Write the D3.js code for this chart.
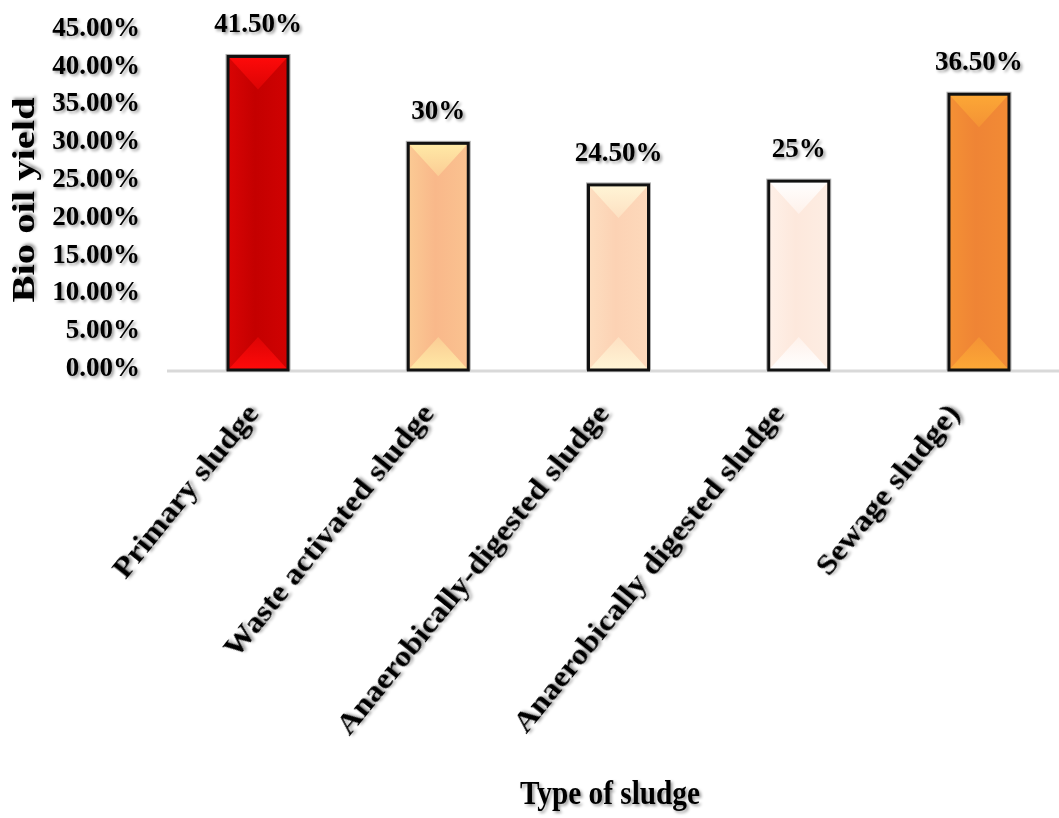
<!DOCTYPE html>
<html>
<head>
<meta charset="utf-8">
<script src="https://cdn.jsdelivr.net/npm/d3@7"></script>
<style>
    body { margin: 0; background: #fff; }
    text { font-family: "Liberation Serif", "Times New Roman", serif; font-weight: bold; fill: #000; }
</style>
</head>
<body>
<svg id="chart"></svg>
<script>
    // Data
    const categories = ['Primary sludge', 'Waste activated sludge', 'Anaerobically-digested sludge', 'Anaerobically digested sludge', 'Sewage sludge)'];
    const yields = [41.5, 30, 24.5, 25, 36.5];
    const valueLabels = ['41.50%', '30%', '24.50%', '25%', '36.50%'];
    const yTicks = [0, 5, 10, 15, 20, 25, 30, 35, 40, 45];

    // Base colour and highlight colour of every bar
    const baseColors = ['#c40000', '#f9b88a', '#fcd2b4', '#fde8dc', '#ef8435'];
    const lightColors = ['#ff0a0a', '#ffeaa6', '#fff5d6', '#ffffff', '#fca836'];

    // Set standards
    const width = 1059;
    const height = 818;

    const svg = d3.select('#chart')
        .attr('width', width)
        .attr('height', height);

    const defs = svg.append('defs');

    // Soft shadow under all texts
    defs.append('filter')
        .attr('id', 'shadow')
        .attr('x', '-10%').attr('y', '-10%')
        .attr('width', '130%').attr('height', '140%')
        .append('feDropShadow')
        .attr('dx', 2).attr('dy', 2)
        .attr('stdDeviation', 1.5)
        .attr('flood-color', '#000')
        .attr('flood-opacity', 0.4);

    // Scales
    const x = d3.scaleBand()
        .domain(categories)
        .range([168, 1069])
        .paddingInner(0.667)
        .paddingOuter(0.333);

    const y = d3.scaleLinear()
        .domain([0, 45])
        .range([370, 30]);

    // Y axis labels
    const yAxis = svg.append('g')
        .attr('transform', 'translate(140,0)')
        .call(d3.axisLeft(y)
            .tickValues(yTicks)
            .tickSize(0)
            .tickPadding(0)
            .tickFormat(d => d3.format('.2f')(d) + '%'));
    yAxis.select('.domain').remove();
    yAxis.selectAll('text')
        .attr('font-size', 27)
        .attr('font-family', null)
        .attr('dy', '0.2em')
        .attr('filter', 'url(#shadow)');

    // Baseline
    svg.append('line')
        .attr('x1', 167).attr('x2', width)
        .attr('y1', y(0) + 1).attr('y2', y(0) + 1)
        .attr('stroke', '#d9d9d9')
        .attr('stroke-width', 3);

    // Gradients for the bevelled bars
    categories.forEach((c, i) => {
        const side = defs.append('linearGradient')
            .attr('id', 'side' + i)
            .attr('x1', 0).attr('x2', 1).attr('y1', 0).attr('y2', 0);
        side.append('stop').attr('offset', '0%').attr('stop-color', d3.interpolateRgb(baseColors[i], lightColors[i])(0.35));
        side.append('stop').attr('offset', '45%').attr('stop-color', baseColors[i]);
        side.append('stop').attr('offset', '100%').attr('stop-color', d3.interpolateRgb(baseColors[i], lightColors[i])(0.2));

        const top = defs.append('linearGradient')
            .attr('id', 'top' + i)
            .attr('x1', 0).attr('x2', 0).attr('y1', 0).attr('y2', 1);
        top.append('stop').attr('offset', '0%').attr('stop-color', lightColors[i]);
        top.append('stop').attr('offset', '100%').attr('stop-color', d3.interpolateRgb(baseColors[i], lightColors[i])(0.4));

        const bottom = defs.append('linearGradient')
            .attr('id', 'bottom' + i)
            .attr('x1', 0).attr('x2', 0).attr('y1', 1).attr('y2', 0);
        bottom.append('stop').attr('offset', '0%').attr('stop-color', lightColors[i]);
        bottom.append('stop').attr('offset', '100%').attr('stop-color', d3.interpolateRgb(baseColors[i], lightColors[i])(0.4));
    });

    const data = categories.map((c, i) => ({ category: c, value: yields[i], label: valueLabels[i], index: i }));

    // Bars
    const groups = svg.append('g')
        .selectAll('g')
        .data(data)
        .enter().append('g');

    const bw = x.bandwidth();
    const depth = bw * 0.55;

    groups.append('rect')
        .attr('x', d => x(d.category))
        .attr('y', d => y(d.value))
        .attr('width', bw)
        .attr('height', d => y(0) - y(d.value))
        .attr('fill', d => `url(#side${d.index})`);

    groups.append('polygon')
        .attr('points', d => {
            const x0 = x(d.category), x1 = x0 + bw, t = y(d.value);
            return `${x0},${t} ${x1},${t} ${x0 + bw / 2},${t + depth}`;
        })
        .attr('fill', d => `url(#top${d.index})`);

    groups.append('polygon')
        .attr('points', d => {
            const x0 = x(d.category), x1 = x0 + bw, b = y(0);
            return `${x0},${b} ${x1},${b} ${x0 + bw / 2},${b - depth}`;
        })
        .attr('fill', d => `url(#bottom${d.index})`);

    // Outer grey edge and black outline
    groups.append('rect')
        .attr('x', d => x(d.category) - 2)
        .attr('y', d => y(d.value) - 2)
        .attr('width', bw + 4)
        .attr('height', d => y(0) - y(d.value) + 2)
        .attr('fill', 'none')
        .attr('stroke', '#b0b0b0')
        .attr('stroke-width', 1);

    groups.append('rect')
        .attr('x', d => x(d.category))
        .attr('y', d => y(d.value))
        .attr('width', bw)
        .attr('height', d => y(0) - y(d.value))
        .attr('fill', 'none')
        .attr('stroke', '#111')
        .attr('stroke-width', 3);

    // Value labels
    groups.append('text')
        .attr('x', d => x(d.category) + bw / 2)
        .attr('y', d => y(d.value) - 24)
        .attr('text-anchor', 'middle')
        .attr('font-size', 27)
        .attr('filter', 'url(#shadow)')
        .text(d => d.label);

    // Category labels, rotated
    svg.append('g')
        .selectAll('text')
        .data(categories)
        .enter().append('text')
        .attr('transform', (d, i) => `translate(${x(d) + bw / 2 + 2 - i * 5},${y(0) + 44}) rotate(-51) scale(1.12,1)`)
        .attr('text-anchor', 'end')
        .attr('font-size', 29)
        .attr('filter', 'url(#shadow)')
        .text(d => d);

    // Axis titles
    svg.append('text')
        .attr('transform', 'translate(34,200) rotate(-90)')
        .attr('text-anchor', 'middle')
        .attr('font-size', 31)
        .attr('textLength', 205)
        .attr('lengthAdjust', 'spacingAndGlyphs')
        .attr('filter', 'url(#shadow)')
        .text('Bio oil  yield');

    svg.append('text')
        .attr('x', 520)
        .attr('y', 804)
        .attr('font-size', 34)
        .attr('textLength', 180)
        .attr('lengthAdjust', 'spacingAndGlyphs')
        .attr('filter', 'url(#shadow)')
        .text('Type of sludge');
</script>
</body>
</html>
